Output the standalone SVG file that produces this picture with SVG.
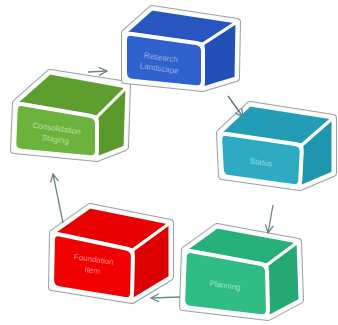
<svg xmlns="http://www.w3.org/2000/svg" width="338" height="325" viewBox="0 0 338 325">
<defs>
<style>
.sil{fill:#fff;stroke:#9aa3a3;stroke-width:8;stroke-linejoin:round}
.silw{fill:#fff;stroke:#f4fbf8;stroke-width:6;stroke-linejoin:round}
.face{stroke:#ffffff;stroke-width:3;stroke-linejoin:round}
.front{stroke:#ffffff;stroke-width:4;stroke-linejoin:round}
.lbl{font-family:"Liberation Sans",Arial,sans-serif;font-size:8px;text-anchor:middle;opacity:0.7}
.conn{fill:none;stroke:#6b8783;stroke-width:1.3}
</style>
<marker id="ah" viewBox="0 0 10 10" refX="9" refY="5" markerWidth="10" markerHeight="10" markerUnits="userSpaceOnUse" orient="auto">
<path d="M1,1 L9,5 L1,9" fill="none" stroke="#6b8783" stroke-width="1.3"/>
</marker>
</defs>
<rect width="338" height="325" fill="#ffffff"/>

<g id="node-consolidation">
<polygon class="sil" points="16,103 50,73 127,85 125,147 97,158 14,150"/>
<polygon class="silw" points="16,103 50,73 127,85 125,147 97,158 14,150"/>
<polygon class="face" fill="#5d9e2f" points="16,103 97,117 127,87 50,73"/>
<polygon class="face" fill="#5a9a2c" points="97,117 127,87 125,147 97,158"/>
<path class="front" fill="#6cb33e" d="M15.7,110 Q16,103 22.9,104.2 L90.1,115.8 Q97,117 97,124 L97,151 Q97,158 90,157.3 L21,150.7 Q14,150 14.3,143 Z"/>
<text class="lbl" fill="#d8f0c0" transform="rotate(8 56 134)"><tspan x="56" y="131">Consolidation</tspan><tspan x="56" y="142">Staging</tspan></text>
</g>

<g id="node-research">
<polygon class="sil" points="125,33 152,9 237,22 236,78 203,88 125,80"/>
<polygon class="silw" points="125,33 152,9 237,22 236,78 203,88 125,80"/>
<polygon class="face" fill="#2756c0" points="125,33 203,44 237,22 152,9"/>
<polygon class="face" fill="#2350b8" points="203,44 237,22 236,78 203,88"/>
<path class="front" fill="#2f62cc" d="M125,40 Q125,33 131.9,34 L196.1,43 Q203,44 203,51 L203,81 Q203,88 196,87.3 L132,80.7 Q125,80 125,73 Z"/>
<text class="lbl" fill="#b8ccf4" transform="rotate(8 160 63)"><tspan x="160" y="60">Research</tspan><tspan x="160" y="71">Landscape</tspan></text>
</g>

<g id="node-status">
<polygon class="sil" points="220,133 250,105 333,118 333,173 300,187 222,176"/>
<polygon class="silw" points="220,133 250,105 333,118 333,173 300,187 222,176"/>
<polygon class="face" fill="#239db6" points="220,133 302,145 333,118 250,105"/>
<polygon class="face" fill="#2096ae" points="302,145 333,118 333,173 300,187"/>
<path class="front" fill="#2eaac2" d="M220.3,140 Q220,133 226.9,134 L295.1,144 Q302,145 301.7,152 L300.3,180 Q300,187 293.1,186 L228.9,177 Q222,176 221.7,169 Z"/>
<text class="lbl" fill="#c0ecf4" transform="rotate(8 261 162)" x="261" y="165">Status</text>
</g>

<g id="node-planning">
<polygon class="sil" points="185,250 217,227 298,242 300,300 268,317 183,307"/>
<polygon class="silw" points="185,250 217,227 298,242 300,300 268,317 183,307"/>
<polygon class="face" fill="#27b07a" points="185,250 267,265 298,242 217,227"/>
<polygon class="face" fill="#24a874" points="267,265 298,242 300,300 268,317"/>
<path class="front" fill="#30bd85" d="M184.8,257 Q185,250 191.9,251.3 L260.1,263.7 Q267,265 267.1,272 L267.9,310 Q268,317 261,316.2 L190,307.8 Q183,307 183.2,300 Z"/>
<text class="lbl" fill="#c8f2e0" transform="rotate(8 225 285)" x="225" y="288">Planning</text>
</g>

<g id="node-foundation">
<polygon class="sil" points="53,233 90,207 170,223 170,277 132,300 52,287"/>
<polygon class="silw" points="53,233 90,207 170,223 170,277 132,300 52,287"/>
<polygon class="face" fill="#e80000" points="53,233 133,250 170,223 90,207"/>
<polygon class="face" fill="#dd0000" points="133,250 170,223 170,277 132,300"/>
<path class="front" fill="#f00000" d="M52.9,240 Q53,233 59.8,234.5 L126.2,248.5 Q133,250 132.9,257 L132.1,293 Q132,300 125.1,298.9 L58.9,288.1 Q52,287 52.1,280 Z"/>
<text class="lbl" fill="#ffc0c0" transform="rotate(8 93 265)"><tspan x="93" y="262">Foundation</tspan><tspan x="93" y="273">Item</tspan></text>
</g>

<g id="connectors">
<line class="conn" x1="88" y1="72" x2="107" y2="71" marker-end="url(#ah)"/>
<line class="conn" x1="228" y1="96" x2="243" y2="117" marker-end="url(#ah)" style="stroke:#5a6f86"/>
<line class="conn" x1="273" y1="205" x2="268" y2="233" marker-end="url(#ah)"/>
<line class="conn" x1="180" y1="297" x2="151" y2="298" marker-end="url(#ah)"/>
<line class="conn" x1="63" y1="223" x2="53" y2="174" marker-end="url(#ah)"/>
</g>
</svg>
